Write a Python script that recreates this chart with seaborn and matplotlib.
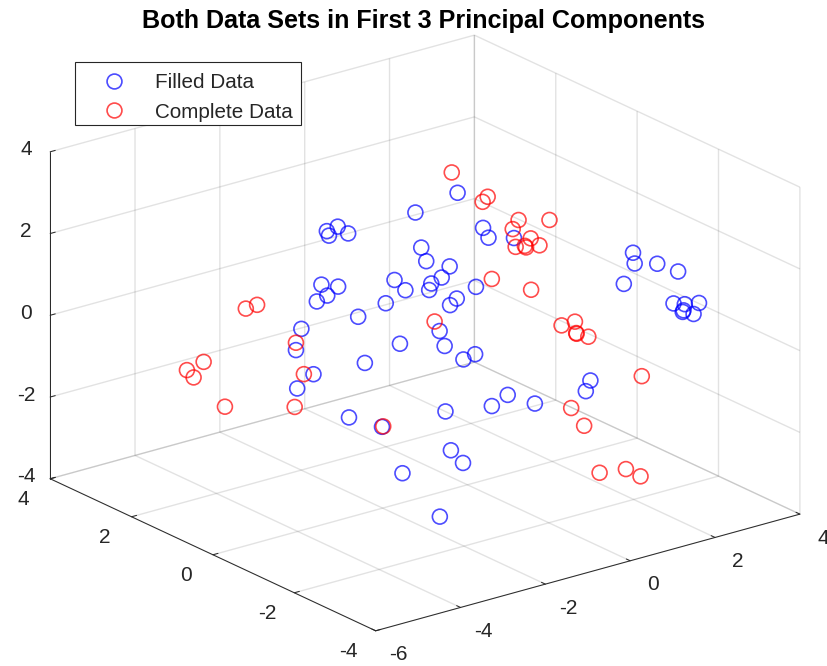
import matplotlib
matplotlib.use("Agg")
import matplotlib.pyplot as plt
from matplotlib.lines import Line2D
from matplotlib.patches import Rectangle
from matplotlib.transforms import ScaledTranslation
import seaborn as sns

# Filled data (first 3 PCs)
filled_x = [-1.16, -2.48, -2.45, -2.32, -2.16, -1.07, -1.00, -0.65, -0.77, -0.92,
            -0.95, -1.47, -1.31, -2.56, -2.31, -2.47, -2.63, -1.60, -2.01, -2.86,
            -0.80, -1.39, -0.72, -0.64, -0.54, -0.53, -0.15, -0.07, 0.31, 2.09,
            2.11, 2.45, 2.76, 1.95, -0.26, 2.69, 2.86, 3.07, 2.84, 2.83,
            2.99, -2.94, -2.68, -2.92, -2.15, -1.66, -1.91, -0.44, -0.27, -0.71,
            -0.63, -0.45, -1.35, -1.85, 0.22, -0.02, 0.62, 1.45, 1.38]
filled_y = [0.07, 0.87, 0.85, 0.77, 0.68, 0.02, -0.03, -0.24, -0.17, -0.07,
            -0.05, 0.26, 0.16, 0.92, 0.77, 0.87, 0.96, 0.34, 0.59, 1.10,
            -0.15, 0.21, -0.19, -0.24, -0.30, -0.31, -0.54, -0.59, -0.82, -1.89,
            -1.91, -2.11, -2.30, -1.81, -0.48, -2.26, -2.36, -2.49, -2.35, -2.34,
            -2.44, 1.15, 0.99, 1.14, 0.67, 0.37, 0.53, -0.36, -0.47, -0.20,
            -0.25, -0.36, 0.19, -1.25, -0.76, -0.62, -1.01, -1.51, -1.47]
filled_z = [2.96, 2.51, 2.40, 2.62, 2.45, 2.10, 1.77, 1.64, 1.37, 1.22,
            1.06, 1.31, 1.06, 1.20, 1.15, 0.93, 0.79, 0.74, 0.41, 0.12,
            0.06, -0.25, -0.31, 0.69, 0.85, 3.44, 2.58, 2.34, 2.33, 1.96,
            1.70, 1.69, 1.50, 1.20, 1.14, 0.72, 0.70, 0.73, 0.55, 0.51,
            0.46, -0.40, -0.99, -1.34, -2.05, -2.28, -0.72, -0.64, -0.51, -1.91,
            -2.86, -3.17, -3.42, -3.67, -1.51, -1.78, -1.72, -1.16, -1.42]

# Complete data
complete_x = [-0.62, -0.08, -0.16, 0.38, 0.84, 0.29, 0.56, 0.34, 0.47, 0.49,
              0.69, -0.02, 0.57, 1.02, 1.22, 1.24, 1.25, 1.42, -0.87, -3.52,
              -3.69, -2.94, -4.32, -4.57, -4.47, -4.00, -2.82, -2.96, -1.64, 2.22,
              1.16, 1.36, 1.59, 1.98, 2.20]
complete_y = [-0.26, -0.58, -0.54, -0.86, -1.14, -0.81, -0.97, -0.83, -0.92, -0.93,
              -1.05, -0.62, -0.97, -1.25, -1.37, -1.38, -1.38, -1.49, -0.10, 1.50,
              1.60, 1.15, 1.98, 2.13, 2.07, 1.79, 1.08, 1.16, 0.36, -1.97,
              -1.34, -1.45, -1.59, -1.83, -1.96]
complete_z = [3.94, 3.34, 3.22, 2.77, 2.77, 2.55, 2.32, 2.11, 2.14, 2.10,
              2.15, 1.33, 1.06, 0.19, 0.28, 0.00, -0.02, -0.09, 0.29, 0.71,
              0.62, -0.22, -0.68, -0.88, -1.06, -1.78, -0.99, -1.79, -2.27, -1.06,
              -1.83, -2.27, -3.42, -3.33, -3.51]

x_ticks = [-6, -4, -2, 0, 2, 4]
y_ticks = [-4, -2, 0, 2, 4]
z_ticks = [-4, -2, 0, 2, 4]

sns.set_theme(style="white")
plt.rcParams["font.family"] = ["Liberation Sans", "DejaVu Sans"]
plt.rcParams["axes.unicode_minus"] = False

W, H = 827, 666
fig = plt.figure(figsize=(W / 100, H / 100), dpi=100)

# 3d axes square, placed so the box lands where it should
S = 809
ax = fig.add_axes([9.6 / W, -82.4 / H, S / W, S / H], projection="3d", proj_type="ortho")
ax.set_box_aspect((1, 1, 0.655))
ax.view_init(elev=21, azim=-127.5)

blue = sns.color_palette(["#0000ff"])[0]
red = sns.color_palette(["#ff0000"])[0]
ax.scatter(filled_x, filled_y, filled_z, s=115, facecolors="none", edgecolors=blue,
           linewidths=1.2, alpha=0.7, depthshade=False)
ax.scatter(complete_x, complete_y, complete_z, s=115, facecolors="none", edgecolors=red,
           linewidths=1.2, alpha=0.7, depthshade=False)

ax.set_xlim(-6, 4, view_margin=0)
ax.set_ylim(-4, 4, view_margin=0)
ax.set_zlim(-4, 4, view_margin=0)
ax.set_xticks(x_ticks)
ax.set_yticks(y_ticks)
ax.set_zticks(z_ticks)


def nudge_labels(axis, dx, dy):
    # axis3d sets the tick transforms again on every call, so hook in after it
    original = axis.get_major_ticks
    offset = ScaledTranslation(dx / 100, dy / 100, fig.dpi_scale_trans)

    def get_major_ticks(numticks=None):
        ticks = original(numticks)
        for tick in ticks:
            tick.label1.set_transform(ax.transData + offset)
        return ticks

    axis.get_major_ticks = get_major_ticks


# label nudges in pixels (right, up)
nudges = {"x": (9, 6), "y": (-9, 8), "z": (8, 10)}
for name, axis in zip("xyz", [ax.xaxis, ax.yaxis, ax.zaxis]):
    axis.set_pane_color((1, 1, 1, 1))
    axis.pane.set_edgecolor("white")
    axis.line.set_color("#262626")
    axis.line.set_linewidth(0.7)
    # see-through grid so that lines meeting in a corner come out darker
    axis._axinfo["grid"].update(color=(0.15, 0.15, 0.15, 0.13), linewidth=1.0)
    axis._axinfo["tick"].update(inward_factor=0.0, outward_factor=0.15, linewidth={True: 0.7, False: 0.7})
    axis.set_tick_params(labelsize=15, labelcolor="#262626", color="#262626", pad=5)
    nudge_labels(axis, *nudges[name])

fig.text(423.5 / W, 1 - 21 / H, "Both Data Sets in First 3 Principal Components",
         ha="center", va="center", fontsize=18.1, fontweight="bold", color="black")

# legend frame drawn separately, the rows do not sit in its middle
fig.add_artist(Rectangle((75 / W, 1 - 125 / H), 226 / W, 63 / H, transform=fig.transFigure,
                         facecolor="white", edgecolor="#262626", linewidth=0.8, zorder=4))
handles = [
    Line2D([], [], ls="none", marker="o", ms=10.7, mfc="none", mec=blue, mew=1.2, alpha=0.7),
    Line2D([], [], ls="none", marker="o", ms=10.7, mfc="none", mec=red, mew=1.2, alpha=0.7),
]
leg = fig.legend(handles, ["Filled Data", "Complete Data"], loc="upper left",
                 bbox_to_anchor=(75 / W, 1 - 67 / H), bbox_transform=fig.transFigure,
                 fontsize=14.9, frameon=False, borderaxespad=0, borderpad=0.3,
                 labelspacing=0.5, handlelength=3.17, handletextpad=0.4)
for t in leg.get_texts():
    t.set_color("#262626")

fig.savefig("out.png", dpi=100, facecolor="white")
